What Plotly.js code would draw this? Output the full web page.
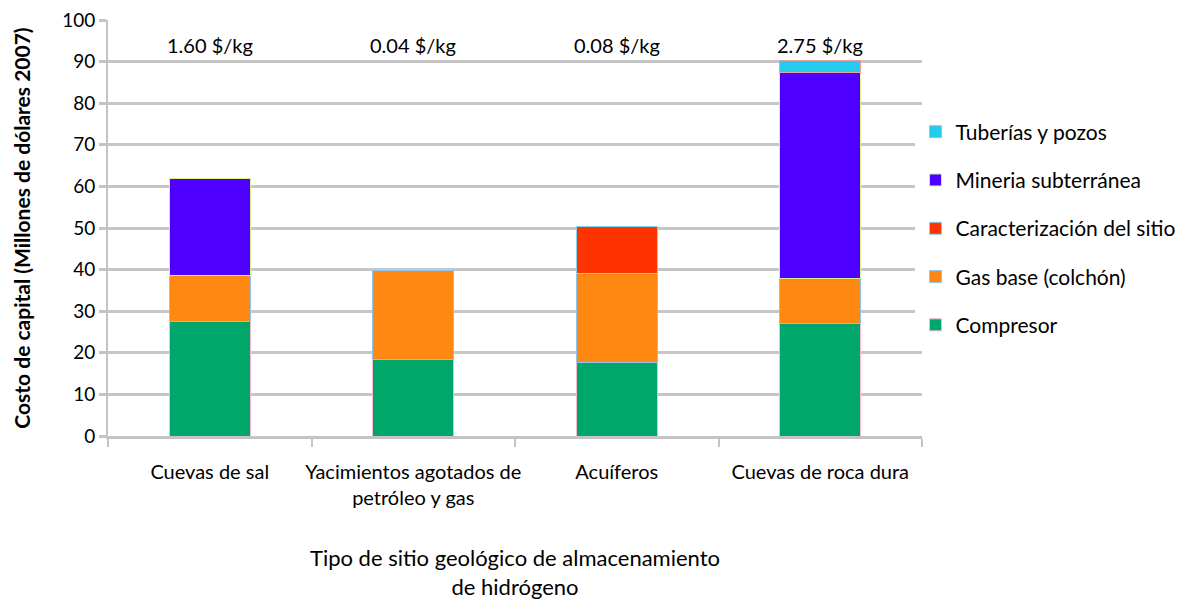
<!DOCTYPE html>
<html>
<head>
<meta charset="utf-8">
<script src="https://cdn.plot.ly/plotly-3.0.1.min.js"></script>
<style>html,body{margin:0;padding:0;background:#fff;}#chart{width:1185px;height:600px;}</style>
</head>
<body>
<div id="chart"></div>
<script>
var categories = ["Cuevas de sal", "Yacimientos agotados de<br>petróleo y gas", "Acuíferos", "Cuevas de roca dura"];
var costPerKg = ["1.60 $/kg", "0.04 $/kg", "0.08 $/kg", "2.75 $/kg"];
var compresor = [27.5, 18.3, 17.6, 27.1];
var gasBase = [11.2, 21.5, 21.5, 10.8];
var caracterizacion = [null, null, 11.2, null];
var mineria = [23.3, null, null, 49.4];
var tuberias = [null, null, null, 2.9];

var seriesNames = ["Compresor", "Gas base (colchón)", "Caracterización del sitio", "Mineria subterránea", "Tuberías y pozos"];
var seriesValues = [compresor, gasBase, caracterizacion, mineria, tuberias];
var seriesColors = ["#00A66A", "#FF8812", "#FF3300", "#4D00FF", "#22CCEE"];
var outlineColors = ["#F4B8D0", "#8EC4F0", "#7FD8F0", "#D8F08A", "#F0A0A0"];

var FONT = "Lato, 'Open Sans', sans-serif";

var traces = seriesNames.map(function(name, i) {
  return {
    type: "bar",
    name: name,
    x: categories,
    y: seriesValues[i],
    width: 0.4,
    legendgroup: "g" + i,
    legendrank: 10 - i,
    marker: {color: seriesColors[i], line: {color: outlineColors[i], width: 1}},
    hoverinfo: "x+y+name"
  };
});

var annotations = categories.map(function(c, i) {
  return {
    x: c, y: 94, xref: "x", yref: "y",
    text: costPerKg[i], showarrow: false,
    font: {family: FONT, size: 20, color: "#000"}
  };
});

var layout = {
  width: 1185, height: 600,
  margin: {l: 108, r: 263, t: 20, b: 164, autoexpand: false},
  paper_bgcolor: "#fff", plot_bgcolor: "#fff",
  barmode: "stack",
  font: {family: FONT, size: 18, color: "#000"},
  xaxis: {
    type: "category",
    showline: true, linecolor: "#c4c4c4", linewidth: 3,
    ticks: "outside", tickson: "boundaries", ticklen: 8, tickcolor: "#c4c4c4", tickwidth: 2,
    ticklabelstandoff: 16, tickangle: 0,
    tickfont: {family: FONT, size: 20, color: "#000"},
    showgrid: false,
    title: {text: "Tipo de sitio geológico de almacenamiento<br>de hidrógeno", standoff: 54,
            font: {family: FONT, size: 22, color: "#000"}}
  },
  yaxis: {
    range: [0, 100], dtick: 10,
    showline: true, linecolor: "#c4c4c4", linewidth: 2,
    ticks: "outside", ticklen: 7, tickcolor: "#c4c4c4", tickwidth: 3,
    showgrid: true, gridcolor: "#c6c6c6", gridwidth: 3,
    zeroline: false,
    tickfont: {family: FONT, size: 19, color: "#000"},
    title: {text: "<b>Costo de capital (Millones de dólares 2007)</b>", standoff: 26,
            font: {family: FONT, size: 21, color: "#000"}}
  },
  legend: {
    x: 0.992, xanchor: "left", y: 0.78, yanchor: "top",
    traceorder: "grouped", tracegroupgap: 18,
    font: {family: FONT, size: 21, color: "#000"},
    itemwidth: 30
  },
  annotations: annotations
};

Plotly.newPlot("chart", traces, layout, {displayModeBar: false, staticPlot: true});
</script>
</body>
</html>
